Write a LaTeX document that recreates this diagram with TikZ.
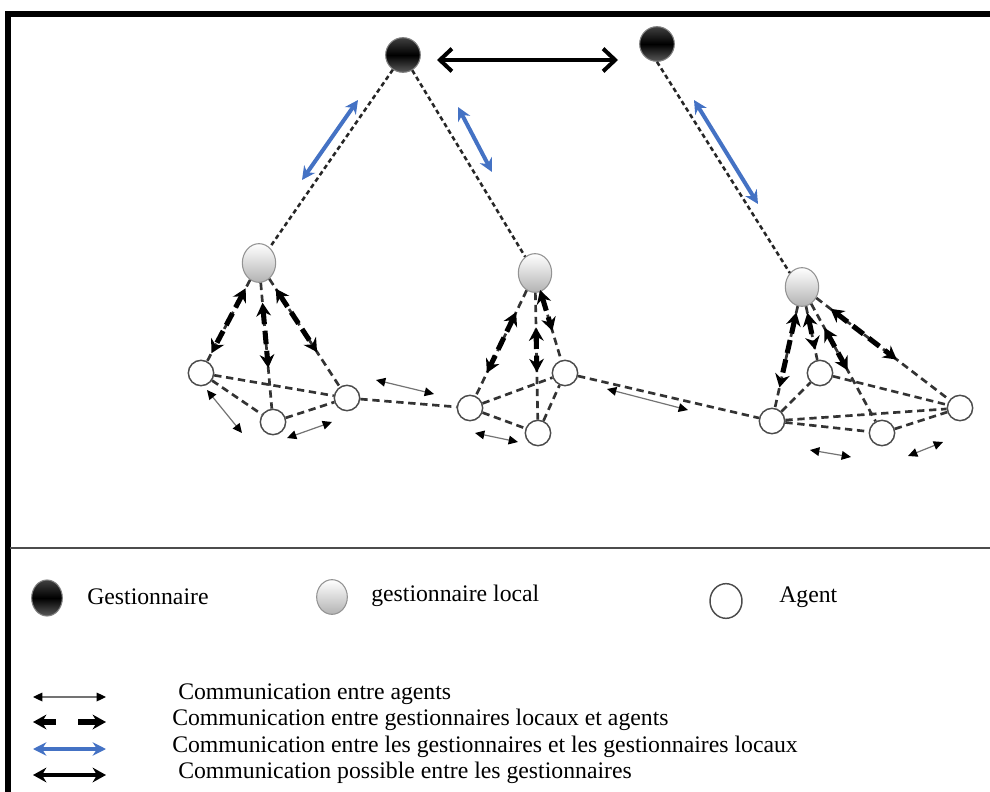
\documentclass[tikz,border=0pt]{standalone}
\usepackage{fontspec}
\setmainfont{Liberation Serif}
\usetikzlibrary{arrows.meta,shapes.geometric,calc}

\definecolor{linkblue}{RGB}{68,114,196}

\begin{document}
\begin{tikzpicture}[x=0.75pt,y=-0.75pt,
  gest/.style={circle,minimum size=26pt,inner sep=0pt,draw=black!50,line width=0.8pt,
    top color=black!75,bottom color=black!65,middle color=black},
  locmgr/.style={ellipse,minimum width=25pt,minimum height=29pt,inner sep=0pt,draw=gray!85,line width=0.8pt,
    top color=white,bottom color=gray!60},
  agent/.style={circle,minimum size=19pt,inner sep=0pt,draw=black!70,fill=white,line width=1.1pt},
  uplink/.style={draw=black!85,line width=1.9pt,dash pattern=on 3.4pt off 2.4pt},
  peerlink/.style={draw=black!80,line width=2pt,dash pattern=on 5.5pt off 3.5pt},
  mgrarrow/.style={draw=black,line width=3.8pt,dash pattern=on 10pt off 5pt,
    {Stealth[length=10pt,width=11pt]}-{Stealth[length=10pt,width=11pt]}},
  peerarrow/.style={draw=black!55,line width=0.9pt,
    {Triangle[length=7pt,width=6.5pt,color=black]}-{Triangle[length=7pt,width=6.5pt,color=black]}},
  bluearrow/.style={draw=linkblue,line width=3pt,
    {Stealth[length=10pt,width=10pt]}-{Stealth[length=10pt,width=10pt]}},
  gestarrow/.style={draw=black,line width=3.6pt,
    {Straight Barb[length=9pt,width=17pt,line width=3pt]}-{Straight Barb[length=9pt,width=17pt,line width=3pt]}},
  legtext/.style={anchor=west,inner sep=0pt,font=\fontsize{17.8}{20}\selectfont}
]
\path[use as bounding box] (0,0) rectangle (990,792);

% frame and separator
\draw[line width=4.4pt] (8,792) -- (8,14) -- (990,14);
\draw[black!70,line width=1.4pt] (10,548) -- (990,548);

% managers
\node[gest] (G1) at (403,55) {};
\node[gest] (G2) at (657,44) {};

% local managers
\node[locmgr] (L1) at (259,263) {};
\node[locmgr] (L2) at (535,273) {};
\node[locmgr] (L3) at (802,287) {};

% agents, first group
\node[agent] (A1) at (201,373) {};
\node[agent] (A2) at (273,422) {};
\node[agent] (A3) at (347,398) {};
% agents, second group
\node[agent] (B1) at (470,408) {};
\node[agent] (B2) at (538,433) {};
\node[agent] (B3) at (565,373) {};
% agents, third group
\node[agent] (C1) at (772,421) {};
\node[agent] (C2) at (820,373) {};
\node[agent] (C3) at (882,433) {};
\node[agent] (C4) at (960,408) {};

% manager to local manager links
\draw[uplink] (G1) -- (L1);
\draw[uplink] (G1) -- (L2);
\draw[uplink] (G2.south) -- (L3.north west);

% local manager to agent links
\foreach \a in {A1,A2,A3} \draw[peerlink] (L1) -- (\a);
\foreach \a in {B1,B2,B3} \draw[peerlink] (L2) -- (\a);
\foreach \a in {C1,C2,C3,C4} \draw[peerlink] (L3) -- (\a);

% agent to agent links
\draw[peerlink] (A1) -- (A3);
\draw[peerlink] (A1) -- (A2);
\draw[peerlink] (A2) -- (A3);
\draw[peerlink] (A3) -- (B1);
\draw[peerlink] (B1) -- (B3);
\draw[peerlink] (B1) -- (B2);
\draw[peerlink] (B2) -- (B3);
\draw[peerlink] (B3) -- (C1);
\draw[peerlink] (C1) -- (C2);
\draw[peerlink] (C1) -- (C4);
\draw[peerlink] (C1) -- (C3);
\draw[peerlink] (C2) -- (C4);
\draw[peerlink] (C3) -- (C4);

% local manager / agent communication
\draw[mgrarrow] ($(L1)!0.23!(A1)$) -- ($(L1)!0.82!(A1)$);
\draw[mgrarrow] ($(L1)!0.25!(A2)$) -- ($(L1)!0.66!(A2)$);
\draw[mgrarrow] ($(L1)!0.19!(A3)$) -- ($(L1)!0.66!(A3)$);
\draw[mgrarrow] ($(L2)!0.29!(B1)$) -- ($(L2)!0.74!(B1)$);
\draw[mgrarrow] ($(L2)!0.34!(B2)$) -- ($(L2)!0.62!(B2)$);
\draw[mgrarrow] ($(L2)!0.17!(B3)$) -- ($(L2)!0.58!(B3)$);
\draw[mgrarrow] ($(L3)!0.19!(C1)$) -- ($(L3)!0.75!(C1)$);
\draw[mgrarrow] ($(L3)!0.30!(C2)$) -- ($(L3)!0.73!(C2)$);
\draw[mgrarrow] ($(L3)!0.28!(C3)$) -- ($(L3)!0.57!(C3)$);
\draw[mgrarrow] ($(L3)!0.18!(C4)$) -- ($(L3)!0.60!(C4)$);

% agent / agent communication
\draw[peerarrow] (207,390) -- (242,433);
\draw[peerarrow] (287,438) -- (332,422);
\draw[peerarrow] (376,380) -- (434,394);
\draw[peerarrow] (475,433) -- (518,442);
\draw[peerarrow] (607,389) -- (688,410);
\draw[peerarrow] (810,450) -- (851,457);
\draw[peerarrow] (908,456) -- (943,442);

% manager / local manager communication
\draw[bluearrow] (302,180) -- (358,100);
\draw[bluearrow] (458,107) -- (492,172);
\draw[bluearrow] (694,100) -- (758,204);

% manager / manager communication
\draw[gestarrow] (437,60) -- (618,60);

% legend: node kinds
\node[gest,minimum size=0pt,ellipse,minimum width=23pt,minimum height=27pt] (kG) at (47,598) {};
\node[legtext] (tG) at (87,597) {Gestionnaire};
\node[locmgr,minimum width=23pt,minimum height=26pt] (kL) at (332,597) {};
\node[legtext] (tL) at (371,596) {gestionnaire local};
\node[agent,ellipse,minimum size=0pt,minimum width=24pt,minimum height=26pt] (kA) at (726,601) {};
\node[legtext] (tA) at (779,597) {Agent};

% legend: communication kinds
\draw[peerarrow] (33,697) -- (106,697);
\node[legtext] at (178,694) {Communication entre agents};
\draw[black,line width=3.8pt,{Stealth[length=10pt,width=11pt]}-] (33,722) -- (56,722);
\draw[black,line width=3.8pt,-{Stealth[length=10pt,width=11pt]}] (78,722) -- (106,722);
\node[legtext] at (172,720) {Communication entre gestionnaires locaux et agents};
\draw[bluearrow] (33,749) -- (106,749);
\node[legtext] at (172,747) {Communication entre les gestionnaires et les gestionnaires locaux};
\draw[black,line width=3.6pt,{Stealth[length=10pt,width=11pt]}-{Stealth[length=10pt,width=11pt]}] (33,775) -- (106,775);
\node[legtext] at (178,773) {Communication possible entre les gestionnaires};
\end{tikzpicture}
\end{document}
